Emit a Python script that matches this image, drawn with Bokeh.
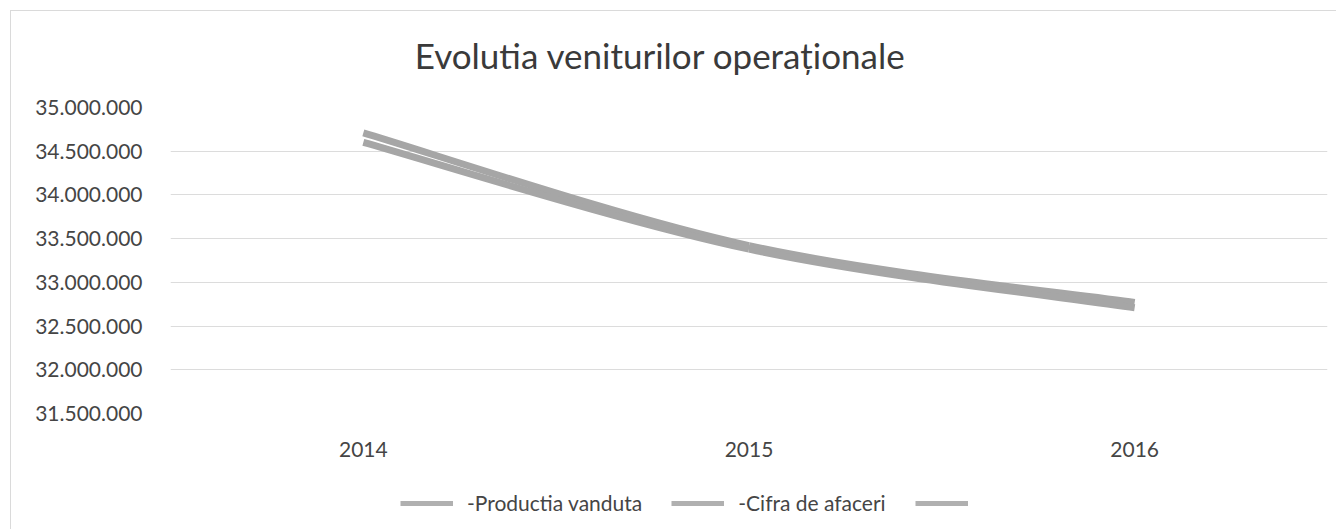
from bokeh.plotting import figure
from bokeh.layouts import column
from bokeh.models import (Range1d, FixedTicker, SingleIntervalTicker, CustomJSTickFormatter,
                          Legend, LegendItem, ColumnDataSource, Label)
from bokeh.embed import file_html
from bokeh.resources import INLINE

# ---- data ----
years = ["2014", "2015", "2016"]
productia_vanduta = [34710000, 33420000, 32770000]
cifra_de_afaceri = [34600000, 33380000, 32710000]
series_names = ["-Productia vanduta", "-Cifra de afaceri", " "]
title_text = "Evolutia veniturilor operaționale"
y_min, y_max, y_step = 31500000, 35000000, 500000

FONT = "Lato"
LINE_COLOR = "#a6a6a6"
W = 1325


def strip(height):
    s = figure(width=W, height=height, output_backend="svg", toolbar_location=None, title=None,
               x_axis_location=None, y_axis_location=None,
               x_range=Range1d(10, 11), y_range=Range1d(0, 1),
               min_border=0, min_border_left=0, min_border_right=0,
               min_border_top=0, min_border_bottom=0)
    s.outline_line_color = None
    s.grid.grid_line_color = None
    s.border_fill_color = "white"
    s.background_fill_color = "white"
    return s


# ---- title strip ----
TH = 70
pt = strip(TH)
pt.add_layout(Label(x=490, y=27, x_units="screen", y_units="screen", text=title_text,
                    text_align="center", text_baseline="middle", text_font=FONT,
                    text_font_size="35px", text_color="#3a3a3a"))

# ---- main chart ----
xs = [i + 0.5 for i in range(len(years))]

p = figure(width=W, height=459 - TH, output_backend="svg", toolbar_location=None, title=None,
           x_range=Range1d(0, len(years)), y_range=Range1d(y_min, y_max),
           min_border_left=159, min_border_right=9, min_border_top=96 - TH, min_border_bottom=57)
p.outline_line_color = None
p.background_fill_color = "white"
p.border_fill_color = "white"


def smooth_segments(x, y):
    """Excel-style smoothed curve: cubic Bezier segments between consecutive points."""
    n = len(x)
    out = dict(x0=[], y0=[], x1=[], y1=[], cx0=[], cy0=[], cx1=[], cy1=[])
    for i in range(n - 1):
        xp, yp = (x[i - 1], y[i - 1]) if i > 0 else (x[i], y[i])
        xn2, yn2 = (x[i + 2], y[i + 2]) if i + 2 < n else (x[i + 1], y[i + 1])
        out["x0"].append(x[i]); out["y0"].append(y[i])
        out["x1"].append(x[i + 1]); out["y1"].append(y[i + 1])
        out["cx0"].append(x[i] + (x[i + 1] - xp) / 6.0)
        out["cy0"].append(y[i] + (y[i + 1] - yp) / 6.0)
        out["cx1"].append(x[i + 1] - (xn2 - x[i]) / 6.0)
        out["cy1"].append(y[i + 1] - (yn2 - y[i]) / 6.0)
    return ColumnDataSource(out)


for vals in (productia_vanduta, cifra_de_afaceri):
    p.bezier(x0="x0", y0="y0", x1="x1", y1="y1", cx0="cx0", cy0="cy0", cx1="cx1", cy1="cy1",
             source=smooth_segments(xs, vals), line_color=LINE_COLOR, line_width=7)

p.xaxis.ticker = FixedTicker(ticks=xs)
p.xaxis.major_label_overrides = {x: yr for x, yr in zip(xs, years)}
p.yaxis.ticker = SingleIntervalTicker(interval=y_step)
p.yaxis.formatter = CustomJSTickFormatter(
    code='return Math.round(tick).toString().replace(/\\B(?=(\\d{3})+(?!\\d))/g, ".");')
for ax in (p.xaxis, p.yaxis):
    ax.axis_line_color = None
    ax.major_tick_line_color = None
    ax.minor_tick_line_color = None
    ax.major_label_text_font = FONT
    ax.major_label_text_font_size = "21px"
    ax.major_label_text_color = "#454545"
p.yaxis.major_label_standoff = 22
p.xaxis.major_label_standoff = 22

p.xgrid.grid_line_color = None
p.ygrid.grid_line_color = "#dcdcdc"
p.ygrid.grid_line_width = 1

# ---- legend strip (separate figure so the legend is not clipped by the chart frame) ----
pl = strip(59)
lr1 = pl.line(x=xs, y=productia_vanduta, line_color="#b0b0b0", line_width=5)
lr2 = pl.line(x=xs, y=cifra_de_afaceri, line_color="#b0b0b0", line_width=5)
legend = Legend(items=[LegendItem(label=series_names[0], renderers=[lr1]),
                       LegendItem(label=series_names[1], renderers=[lr2]),
                       LegendItem(label=series_names[2], renderers=[lr2])],
                orientation="horizontal", location=(230, 14),
                glyph_width=53, glyph_height=20, label_standoff=14, spacing=29,
                padding=0, margin=0, border_line_color=None, background_fill_alpha=0,
                label_text_font=FONT, label_text_font_size="21px", label_text_color="#454545")
pl.add_layout(legend, "center")

layout = column(pt, p, pl, spacing=0)
layout.styles = {"margin-left": "10px", "margin-top": "10px",
                 "border-left": "1px solid #dadada", "border-top": "1px solid #dadada"}

open("out.html", "w").write(file_html(layout, INLINE))
